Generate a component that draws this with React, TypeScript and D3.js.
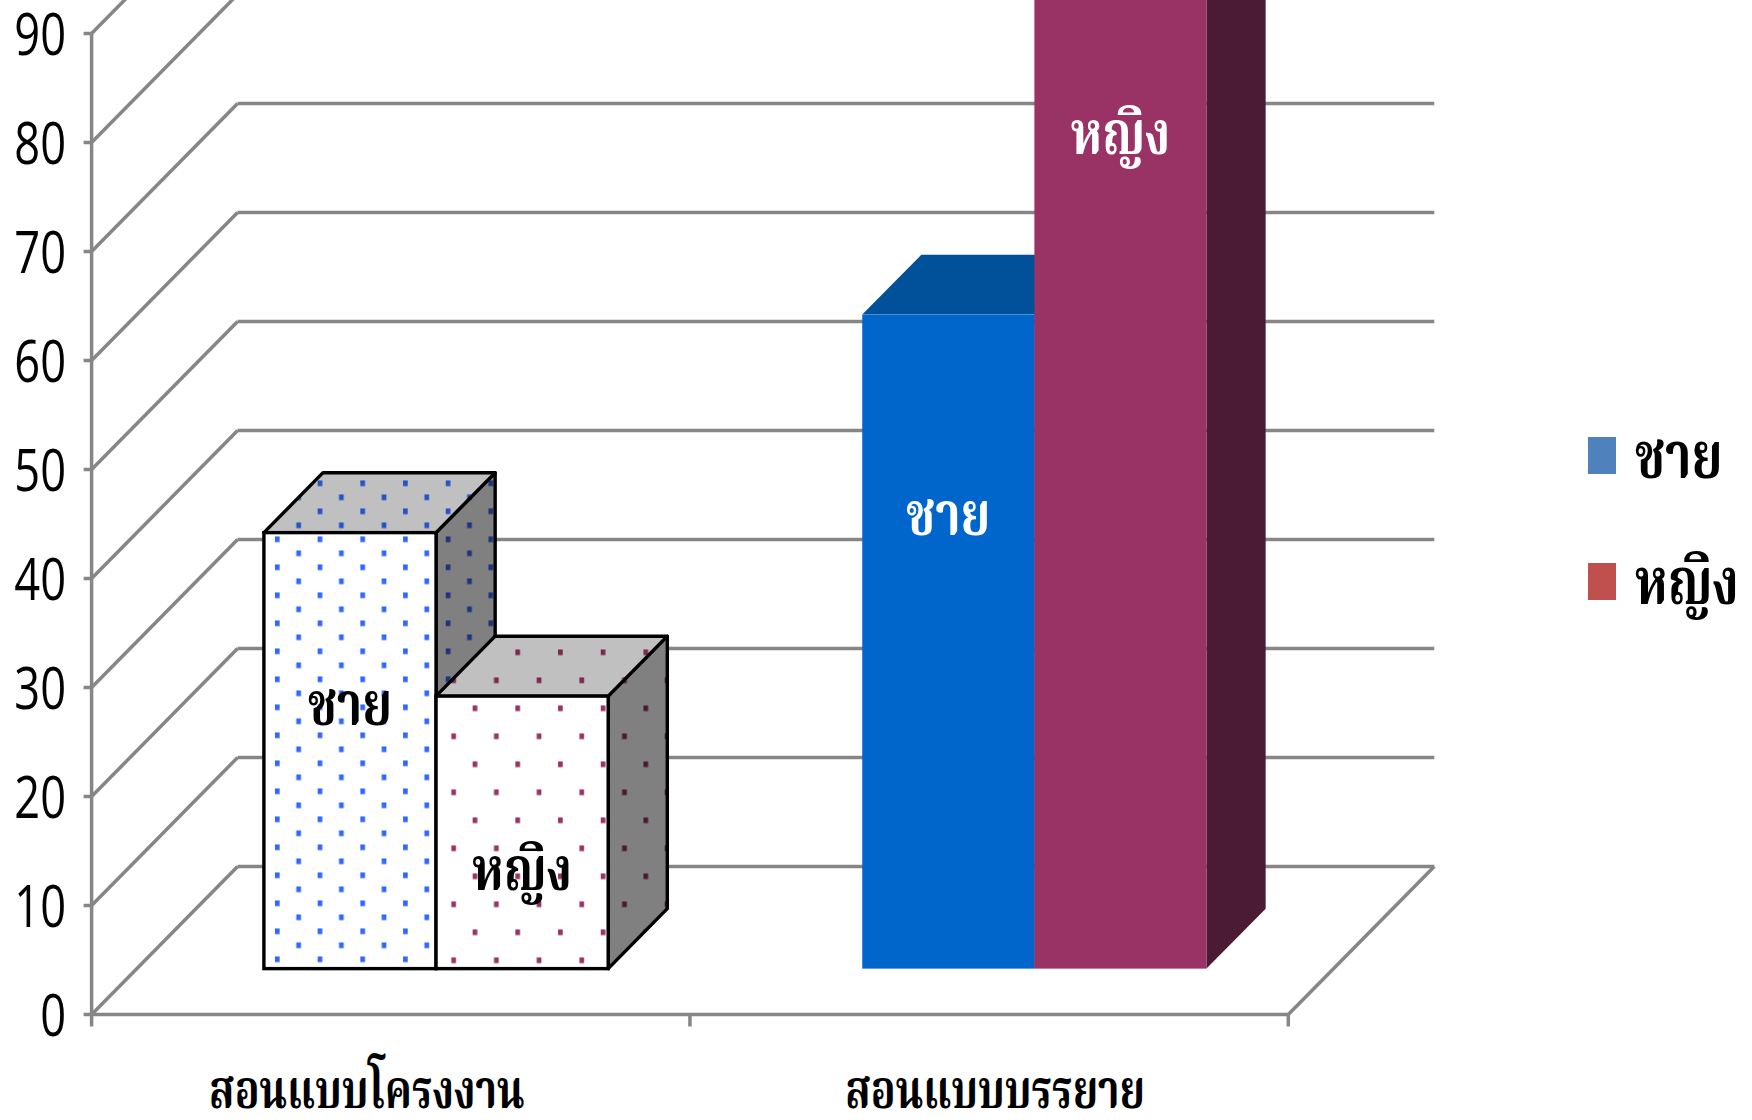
import React from "react";
import * as d3 from "d3";

// ---------- data ----------
const categories = ["สอนแบบโครงงาน", "สอนแบบบรรยาย"];
const seriesNames = ["ชาย", "หญิง"];
const maleValues = [40, 60];
const femaleValues = [25, 95];
const yTicks = [0, 10, 20, 30, 40, 50, 60, 70, 80, 90];
const legendColors = ["#4F81BD", "#C0504D"];

// ---------- layout ----------
const W = 1752;
const H = 1120;
const X0 = 91.6;
const X1 = 1288.3;
const Y0 = 1014.5;
const UNIT = 10.9;
const DX = 146;
const DY = -148;
const FRONT_F = 0.31;
const BAR_DEPTH = 0.405;
const GRID = "#868686";
const THAI = "'Noto Serif Thai', 'Noto Sans Thai Looped', Loma, Garuda, Kinnari, Norasi, 'Tlwg Typo', 'Noto Sans Thai', sans-serif";

const x = d3.scaleBand<string>().domain(categories).range([X0, X1]).paddingInner(0).paddingOuter(0);
const inner = d3.scaleBand<string>().domain(seriesNames).range([0, x.bandwidth()]).paddingInner(0).paddingOuter(0.738);
const y = d3.scaleLinear().domain([0, 90]).range([Y0, Y0 - 90 * UNIT]);

const values = [maleValues, femaleValues];

type Faces = { front: string; top: string; side: string; stroke?: string };
const faceStyles: Faces[][] = [
  [
    { front: "url(#pmF)", top: "url(#pmT)", side: "url(#pmS)", stroke: "#000" },
    { front: "url(#pfF)", top: "url(#pfT)", side: "url(#pfS)", stroke: "#000" },
  ],
  [
    { front: "#0066CC", top: "#00509A", side: "#003A70" },
    { front: "#993366", top: "#7A2852", side: "#4B1A34" },
  ],
];
const labelColors = [["#000", "#000"], ["#fff", "#fff"]];
// label baseline as fraction of bar height from the bottom (layout only)
const labelBase = [[0.559, 0.288], [0.663, 0.787]];

function Bar({ ci, si }: { ci: number; si: number }) {
  const cat = categories[ci];
  const v = values[si][ci];
  const bw = inner.bandwidth();
  const x0 = (x(cat) as number) + (inner(seriesNames[si]) as number) + DX * FRONT_F;
  const yb = Y0 + DY * FRONT_F;
  const yt = y(v) + DY * FRONT_F;
  const ox = DX * BAR_DEPTH;
  const oy = DY * BAR_DEPTH;
  const st = faceStyles[ci][si];
  const sw = st.stroke ? 3.4 : 0;
  const stroke = st.stroke || "none";
  const top = `M${x0},${yt} L${x0 + ox},${yt + oy} L${x0 + bw + ox},${yt + oy} L${x0 + bw},${yt} Z`;
  const side = `M${x0 + bw},${yt} L${x0 + bw + ox},${yt + oy} L${x0 + bw + ox},${yb + oy} L${x0 + bw},${yb} Z`;
  const labelY = yb - (yb - yt) * labelBase[ci][si];
  return (
    <g>
      <path d={side} fill={st.side} stroke={stroke} strokeWidth={sw} strokeLinejoin="round" />
      <path d={top} fill={st.top} stroke={stroke} strokeWidth={sw} strokeLinejoin="round" />
      <rect x={x0} y={yt} width={bw} height={yb - yt} fill={st.front} stroke={stroke} strokeWidth={sw} />
      <text
        transform={`translate(${x0 + bw / 2},${labelY}) scale(1,1.25)`}
        textAnchor="middle"
        fontFamily={THAI}
        fontWeight="bold"
        fontSize={48}
        fill={labelColors[ci][si]}
      >
        {seriesNames[si]}
      </text>
    </g>
  );
}

function Pattern({ id, bg, dot, ox, oy, h }: { id: string; bg: string; dot: string; ox: number; oy: number; h: number }) {
  const w = 42.7;
  return (
    <pattern id={id} patternUnits="userSpaceOnUse" x={ox} y={oy} width={w} height={h}>
      <rect x={0} y={0} width={w} height={h} fill={bg} />
      <rect x={0} y={0} width={4.7} height={5.7} fill={dot} />
      <rect x={w / 2} y={h / 2} width={4.7} height={5.7} fill={dot} />
    </pattern>
  );
}

export default function App() {
  const backY = (v: number) => y(v) + DY;
  return (
    <svg
      width={W}
      height={H}
      viewBox={`0 0 ${W} ${H}`}
      style={{ position: "fixed", left: 0, top: 0, background: "#fff" }}
    >
      <defs>
        <Pattern id="pmF" bg="#fff" dot="#3366FF" ox={274.95} oy={536.45} h={28} />
        <Pattern id="pmT" bg="#C0C0C0" dot="#2452C8" ox={274.95} oy={536.45} h={28} />
        <Pattern id="pmS" bg="#808080" dot="#1C3380" ox={274.95} oy={536.45} h={28} />
        <Pattern id="pfF" bg="#fff" dot="#993366" ox={472.65} oy={705.45} h={56} />
        <Pattern id="pfT" bg="#C0C0C0" dot="#7D2650" ox={472.65} oy={705.45} h={56} />
        <Pattern id="pfS" bg="#808080" dot="#4A1832" ox={472.65} oy={705.45} h={56} />
      </defs>

      {/* back wall gridlines */}
      {yTicks.map((t) => (
        <line key={"b" + t} x1={X0 + DX} x2={X1 + DX} y1={backY(t)} y2={backY(t)} stroke={GRID} strokeWidth={3.5} />
      ))}
      {/* side wall diagonals */}
      {yTicks.map((t) => (
        <line key={"s" + t} x1={X0} y1={y(t)} x2={X0 + DX} y2={backY(t)} stroke={GRID} strokeWidth={3.5} />
      ))}
      {/* floor right edge */}
      <line x1={X1} y1={Y0} x2={X1 + DX} y2={backY(0)} stroke={GRID} strokeWidth={3.5} />
      {/* axes */}
      <line x1={X0} y1={Y0} x2={X1} y2={Y0} stroke={GRID} strokeWidth={3.5} />
      <line x1={X0} y1={Y0} x2={X0} y2={y(90)} stroke={GRID} strokeWidth={3.5} />
      {yTicks.map((t) => (
        <line key={"t" + t} x1={X0 - 8} x2={X0} y1={y(t)} y2={y(t)} stroke={GRID} strokeWidth={3.5} />
      ))}
      {[X0, X0 + x.bandwidth(), X1].map((xx, i) => (
        <line key={"xt" + i} x1={xx} x2={xx} y1={Y0} y2={Y0 + 12} stroke={GRID} strokeWidth={3.5} />
      ))}
      {/* tick labels */}
      {yTicks.map((t) => (
        <text
          key={"l" + t}
          transform={`translate(66,${y(t) + 21}) scale(0.78,1)`}
          textAnchor="end"
          fontFamily="'Open Sans', sans-serif"
          fontSize={58}
          fill="#000"
        >
          {t}
        </text>
      ))}

      {/* bars */}
      {categories.map((c, ci) => (
        <g key={c}>
          {seriesNames.map((s, si) => (
            <Bar key={s} ci={ci} si={si} />
          ))}
        </g>
      ))}

      {/* category labels */}
      {categories.map((c, i) => (
        <text
          key={"c" + c}
          transform={`translate(${(x(c) as number) + x.bandwidth() / 2 + [-24, 6][i]},1108) scale(1,1.28)`}
          textAnchor="middle"
          fontFamily={THAI}
          fontWeight="bold"
          fontSize={41}
          fill="#000"
        >
          {c}
        </text>
      ))}

      {/* legend */}
      {seriesNames.map((s, i) => (
        <g key={"lg" + s} transform={`translate(1588,${437 + i * 126})`}>
          <rect x={0} y={0} width={28} height={37} fill={legendColors[i]} />
          <text
            transform={`translate(47,41) scale(1,1.3)`}
            fontFamily={THAI}
            fontWeight="bold"
            fontSize={50}
            fill="#000"
          >
            {s}
          </text>
        </g>
      ))}
    </svg>
  );
}
